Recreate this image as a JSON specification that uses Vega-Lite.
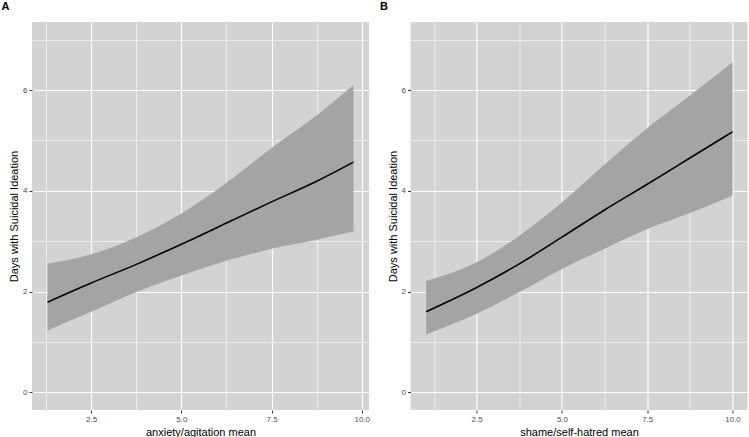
{
  "$schema": "https://vega.github.io/schema/vega-lite/v6.json",
  "padding": {"left": 1, "top": 1, "right": 0, "bottom": 0},
  "background": "white",
  "config": {
    "font": "Liberation Sans",
    "view": {"fill": "#d3d3d3", "stroke": null},
    "concat": {"spacing": 9.5},
    "title": {"fontSize": 11, "fontWeight": "bold", "color": "black", "anchor": "start", "frame": "bounds", "offset": 10, "dx": -7},
    "axis": {
      "domain": false,
      "gridColor": "white",
      "tickColor": "#333333",
      "tickSize": 3,
      "labelFontSize": 8,
      "labelColor": "#4d4d4d",
      "labelPadding": 2,
      "titleFontSize": 11,
      "titleFontWeight": "normal",
      "titleColor": "black",
      "titlePadding": 3
    }
  },
  "hconcat": [
    {
      "title": {"text": "A"},
      "width": 337,
      "height": 388,
      "data": {"values": [
        {"x": 1.29, "lo": 1.23, "fit": 1.79, "hi": 2.55},
        {"x": 2.5, "lo": 1.60, "fit": 2.17, "hi": 2.74},
        {"x": 3.75, "lo": 1.99, "fit": 2.54, "hi": 3.08},
        {"x": 5.0, "lo": 2.32, "fit": 2.94, "hi": 3.55},
        {"x": 6.25, "lo": 2.61, "fit": 3.36, "hi": 4.16},
        {"x": 7.5, "lo": 2.85, "fit": 3.78, "hi": 4.85},
        {"x": 8.75, "lo": 3.03, "fit": 4.19, "hi": 5.50},
        {"x": 9.77, "lo": 3.19, "fit": 4.57, "hi": 6.10}
      ]},
      "encoding": {
        "x": {"field": "x", "type": "quantitative", "title": "anxiety/agitation mean",
          "scale": {"domain": [0.86, 10.2], "nice": false, "zero": false},
          "axis": {"values": [1.25, 2.5, 3.75, 5, 6.25, 7.5, 8.75, 10],
            "labelExpr": "datum.value % 2.5 === 0 ? format(datum.value, '.1f') : ''",
            "tickOpacity": {"condition": {"test": "datum.value % 2.5 !== 0", "value": 0}, "value": 1},
            "gridWidth": {"condition": {"test": "datum.value % 2.5 !== 0", "value": 0.6}, "value": 1.2}}}
      },
      "layer": [
        {"mark": {"type": "area", "color": "#a4a4a4", "interpolate": "monotone"},
          "encoding": {
            "y": {"field": "lo", "type": "quantitative", "title": "Days with Suicidal Ideation",
              "scale": {"domain": [-0.35, 7.35], "nice": false, "zero": false},
              "axis": {"values": [0, 1, 2, 3, 4, 5, 6, 7],
                "labelExpr": "datum.value % 2 === 0 ? datum.label : ''",
                "tickOpacity": {"condition": {"test": "datum.value % 2 !== 0", "value": 0}, "value": 1},
                "gridWidth": {"condition": {"test": "datum.value % 2 !== 0", "value": 0.6}, "value": 1.2}}},
            "y2": {"field": "hi"}
          }},
        {"mark": {"type": "line", "color": "black", "strokeWidth": 1.6, "interpolate": "monotone"},
          "encoding": {"y": {"field": "fit", "type": "quantitative"}}}
      ]
    },
    {
      "title": {"text": "B"},
      "width": 337,
      "height": 388,
      "data": {"values": [
        {"x": 1.02, "lo": 1.15, "fit": 1.60, "hi": 2.21},
        {"x": 2.5, "lo": 1.56, "fit": 2.08, "hi": 2.58},
        {"x": 3.75, "lo": 1.99, "fit": 2.55, "hi": 3.11},
        {"x": 5.0, "lo": 2.45, "fit": 3.08, "hi": 3.77},
        {"x": 6.25, "lo": 2.85, "fit": 3.62, "hi": 4.52},
        {"x": 7.5, "lo": 3.24, "fit": 4.13, "hi": 5.24},
        {"x": 8.75, "lo": 3.56, "fit": 4.65, "hi": 5.89},
        {"x": 10.0, "lo": 3.90, "fit": 5.17, "hi": 6.55}
      ]},
      "encoding": {
        "x": {"field": "x", "type": "quantitative", "title": "shame/self-hatred mean",
          "scale": {"domain": [0.56, 10.44], "nice": false, "zero": false},
          "axis": {"values": [1.25, 2.5, 3.75, 5, 6.25, 7.5, 8.75, 10],
            "labelExpr": "datum.value % 2.5 === 0 ? format(datum.value, '.1f') : ''",
            "tickOpacity": {"condition": {"test": "datum.value % 2.5 !== 0", "value": 0}, "value": 1},
            "gridWidth": {"condition": {"test": "datum.value % 2.5 !== 0", "value": 0.6}, "value": 1.2}}}
      },
      "layer": [
        {"mark": {"type": "area", "color": "#a4a4a4", "interpolate": "monotone"},
          "encoding": {
            "y": {"field": "lo", "type": "quantitative", "title": "Days with Suicidal Ideation",
              "scale": {"domain": [-0.35, 7.35], "nice": false, "zero": false},
              "axis": {"values": [0, 1, 2, 3, 4, 5, 6, 7],
                "labelExpr": "datum.value % 2 === 0 ? datum.label : ''",
                "tickOpacity": {"condition": {"test": "datum.value % 2 !== 0", "value": 0}, "value": 1},
                "gridWidth": {"condition": {"test": "datum.value % 2 !== 0", "value": 0.6}, "value": 1.2}}},
            "y2": {"field": "hi"}
          }},
        {"mark": {"type": "line", "color": "black", "strokeWidth": 1.6, "interpolate": "monotone"},
          "encoding": {"y": {"field": "fit", "type": "quantitative"}}}
      ]
    }
  ]
}
